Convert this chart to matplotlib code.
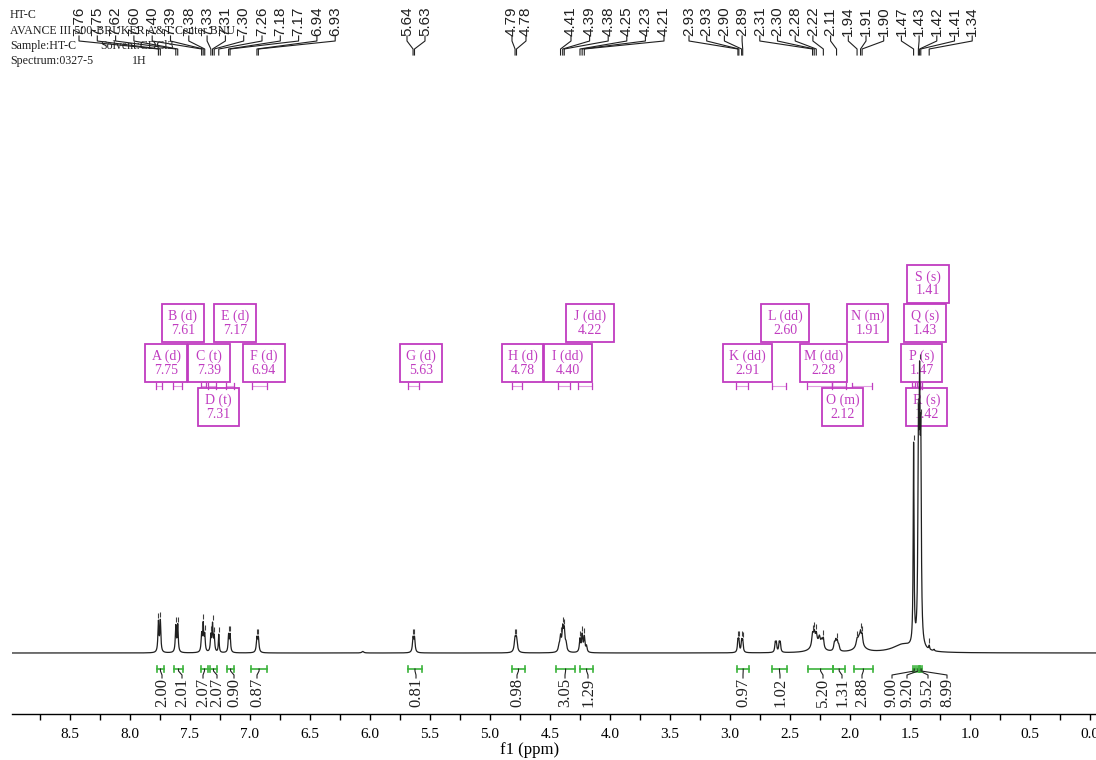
import numpy as np
import matplotlib.pyplot as plt
from matplotlib.patches import Rectangle
from matplotlib.ticker import MultipleLocator, FormatStrFormatter

W, H = 1096, 760  # output size in px

# header lines (text, x px, y px)
header = [("HT-C", 10, 15), ("AVANCE III 500-BRUKER A&T Center BNU", 10, 31),
          ("Sample:HT-C", 10, 46), ("Solvent:CDCl3", 100, 46),
          ("Spectrum:0327-5", 10, 61), ("1H", 132, 61)]

# spectrum lines: position (ppm), height, half width (ppm)
line_ppm = [7.763, 7.747, 7.618, 7.602, 7.403, 7.390, 7.377, 7.326, 7.312, 7.298,
            7.260, 7.178, 7.166, 6.942, 6.930, 6.06, 5.641, 5.629, 4.791, 4.779,
            4.425, 4.412, 4.394, 4.381, 4.366, 4.250, 4.232, 4.214, 4.196,
            2.934, 2.926, 2.903, 2.894, 2.623, 2.614, 2.590, 2.581,
            2.312, 2.298, 2.281, 2.255, 2.235, 2.222, 2.28,
            2.130, 2.118, 2.106, 2.094, 1.941, 1.925, 1.912, 1.899, 1.915,
            1.56, 1.470, 1.430, 1.420, 1.410, 1.340, 1.300]
line_height = [30, 31, 26, 27, 17, 27, 16, 16, 27, 15,
               18, 17, 17, 14, 14, 1.5, 14, 14, 13, 13,
               5, 14, 22, 20, 7, 13, 17, 15, 6,
               11, 11, 11, 11, 9, 9, 9, 9,
               12, 12, 10, 9, 7, 9, 7,
               7, 9, 8, 5, 7, 7, 11, 10, 6,
               8, 200, 190, 214, 180, 4, 1.5]
line_hw = [.005, .005, .005, .005, .005, .005, .005, .005, .005, .005,
           .004, .005, .005, .006, .006, .01, .006, .006, .008, .008,
           .007, .007, .007, .007, .007, .006, .006, .006, .006,
           .005, .005, .005, .005, .005, .005, .005, .005,
           .008, .008, .008, .009, .009, .006, .05,
           .007, .007, .007, .007, .009, .01, .007, .007, .05,
           .10, .004, .005, .005, .005, .004, .005]

# picked peaks labelled at the top, grouped as in the label layout
pick_groups = [[7.763, 7.747, 7.618, 7.602, 7.403, 7.390, 7.377, 7.326, 7.312, 7.298,
                7.260, 7.178, 7.166, 6.942, 6.930],
               [5.641, 5.629],
               [4.791, 4.779],
               [4.412, 4.394, 4.381, 4.250, 4.232, 4.214],
               [2.934, 2.926, 2.903, 2.894, 2.312, 2.298, 2.281, 2.222, 2.112,
                1.941, 1.912, 1.899, 1.470, 1.430, 1.420, 1.410, 1.340]]
pick_x0 = [79, 407, 512, 571, 689]
pick_dx = [18.3, 18, 14, 18.6, 17.7]

# multiplet analysis
mult_name = list("ABCDEFGHIJKLMNOPQRS")
mult_kind = ["d", "d", "t", "t", "d", "d", "d", "d", "dd", "dd", "dd", "dd", "dd",
             "m", "m", "s", "s", "s", "s"]
mult_shift = [7.75, 7.61, 7.39, 7.31, 7.17, 6.94, 5.63, 4.78, 4.40, 4.22, 2.91, 2.60,
              2.28, 1.91, 2.12, 1.47, 1.43, 1.42, 1.41]
mult_from = [7.78, 7.64, 7.41, 7.35, 7.20, 6.98, 5.68, 4.82, 4.43, 4.27, 2.95, 2.65,
             2.36, 1.98, 2.15, 1.48, 1.44, 1.425, 1.415]
mult_to = [7.73, 7.57, 7.37, 7.28, 7.13, 6.86, 5.59, 4.73, 4.33, 4.15, 2.85, 2.53,
           2.15, 1.82, 2.03, 1.46, 1.425, 1.415, 1.40]
box_left = [145, 162, 188, 198, 214, 243, 400, 502, 544, 566, 723, 761, 800, 847, 822,
            901, 904, 906, 907]
box_row = [2, 1, 2, 3, 1, 2, 2, 2, 2, 1, 2, 1, 2, 1, 3, 2, 1, 3, 0]
box_width = [42, 42, 42, 41, 42, 42, 42, 41, 48, 48, 49, 48, 47, 41, 41, 41, 42, 41, 42]

# integrals
int_from = [7.775, 7.633, 7.408, 7.333, 7.19, 6.99, 5.683, 4.817, 4.45, 4.25,
            2.94, 2.65, 2.35, 2.14, 1.967, 1.475, 1.44, 1.425, 1.415]
int_to = [7.717, 7.558, 7.35, 7.275, 7.133, 6.858, 5.567, 4.708, 4.29, 4.14,
          2.84, 2.525, 2.14, 2.04, 1.81, 1.455, 1.425, 1.415, 1.40]
int_value = [2.00, 2.01, 2.07, 2.07, 0.90, 0.87, 0.81, 0.98, 3.05, 1.29,
             0.97, 1.02, 5.20, 1.31, 2.88, 9.00, 9.20, 9.52, 8.99]
int_label_x = [162, 182, 203, 217, 234, 257, 416, 517, 565, 588,
               743, 780, 823, 842, 862, 892, 907, 928, 947]

MAGENTA = "#c03cc0"
GREEN = "#3cb33c"
SERIF = "Liberation Serif"
SANS = "Liberation Sans"


def spectrum(x):
    # sum of lorentzian lines
    x = np.asarray(x, float)[..., None]
    p = np.array(line_ppm)
    h = np.array(line_height)
    g = np.array(line_hw)
    return (h * g ** 2 / (g ** 2 + (x - p) ** 2)).sum(-1)


fig = plt.figure(figsize=(W / 100, H / 100), dpi=100)
ax = fig.add_axes([12 / W, (H - 714) / H, 1084 / W, 714 / H])
ax.set_xlim(8.983, -0.05)
ax.set_ylim(-61, 653)  # one unit = one pixel, baseline 61 px above the axis


def to_px(ppm):
    # ppm -> pixel x from the left edge
    return ax.transData.transform([[ppm, 0]])[0][0]


def fline(xs, ys, **kw):
    ax.plot([x / W for x in xs], [1 - y / H for y in ys], transform=fig.transFigure,
            clip_on=False, **kw)


def ftext(x, y, s, **kw):
    ax.text(x / W, 1 - y / H, s, transform=fig.transFigure, clip_on=False, **kw)


# spectrum
xs = np.linspace(8.983, -0.05, 30000)
ax.plot(xs, spectrum(xs), color="#202020", lw=0.9, zorder=5)

# axis
for side in ["top", "left", "right"]:
    ax.spines[side].set_visible(False)
ax.spines["bottom"].set_linewidth(1.0)
ax.set_yticks([])
ax.xaxis.set_major_locator(MultipleLocator(0.5))
ax.xaxis.set_minor_locator(MultipleLocator(0.25))
ax.xaxis.set_major_formatter(FormatStrFormatter("%.1f"))
ax.tick_params(axis="x", which="both", direction="out", length=4, width=1)
ax.tick_params(axis="x", which="major", pad=6, labelsize=11)
for lab in ax.get_xticklabels():
    lab.set_family(SERIF)
ax.patch.set_visible(False)
ftext(530, 750, "f1 (ppm)", ha="center", va="center", fontsize=12, family=SERIF)

# header
for s, x, y in header:
    ftext(x, y, s, ha="left", va="center", fontsize=8.6, family=SERIF, color="#202020")

# picked peak labels with connectors
for grp, x0, dx in zip(pick_groups, pick_x0, pick_dx):
    for i, p in enumerate(grp):
        lx = x0 + i * dx
        px = to_px(p)
        ftext(lx, 36, "%.2f" % p, rotation=90, ha="center", va="bottom",
              fontsize=11, family=SANS, color="#202020")
        fline([lx, lx, px, px], [36, 41, 49, 55], color="#202020", lw=0.8)
        top = spectrum(p)
        ax.vlines(p, top + 2, top + 7, color="#404040", lw=0.8, zorder=6)

# multiplet boxes
row_top = [265, 304, 344, 388]
for i in range(len(mult_name)):
    x0 = box_left[i]
    y0 = row_top[box_row[i]]
    w = box_width[i]
    ax.add_patch(Rectangle((x0 / W, 1 - (y0 + 38) / H), w / W, 38 / H,
                           transform=fig.transFigure, clip_on=False, fc="white",
                           ec=MAGENTA, lw=1.3, zorder=2))
    ftext(x0 + w / 2, y0 + 12, "%s (%s)" % (mult_name[i], mult_kind[i]), ha="center",
          va="center", fontsize=10, family=SERIF, color=MAGENTA, zorder=3)
    ftext(x0 + w / 2, y0 + 26, "%.2f" % mult_shift[i], ha="center", va="center",
          fontsize=10, family=SERIF, color=MAGENTA, zorder=3)
    a, b = to_px(mult_from[i]), to_px(mult_to[i])
    fline([a, b], [386, 386], color="#e0a0e0", lw=0.8, zorder=2)
    fline([a, a], [383, 389], color=MAGENTA, lw=0.9, zorder=2)
    fline([b, b], [383, 389], color=MAGENTA, lw=0.9, zorder=2)

# integrals
for a_ppm, b_ppm, v, lx in zip(int_from, int_to, int_value, int_label_x):
    a, b = to_px(a_ppm), to_px(b_ppm)
    c = (a + b) / 2
    fline([a, b], [669, 669], color=GREEN, lw=1.2)
    fline([a, a], [666, 672], color=GREEN, lw=1.2)
    fline([b, b], [666, 672], color=GREEN, lw=1.2)
    fline([c, c, lx, lx], [669, 671, 675, 678], color="#202020", lw=0.8)
    ftext(lx, 678, "%.2f" % v, rotation=90, ha="center", va="top", fontsize=12,
          family=SERIF, color="#202020")

fig.savefig("out.png", dpi=100)
